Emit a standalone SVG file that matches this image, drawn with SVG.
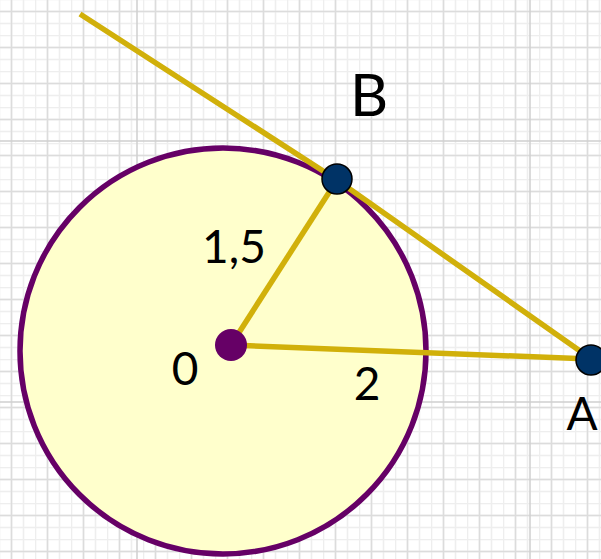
<svg xmlns="http://www.w3.org/2000/svg" width="601" height="559" viewBox="0 0 601 559">
<defs>
<pattern id="grid" x="-1" y="-1" width="36" height="36" patternUnits="userSpaceOnUse">
<rect width="36" height="36" fill="#ffffff"/>
<path d="M0 0.5H36M0 12.5H36M0 24.5H36M0.5 0V36M12.5 0V36M24.5 0V36" stroke="#eeeeee" stroke-width="1.5" fill="none"/>
<path d="M0 12.5H36M12.5 0V36" stroke="#dcdcdc" stroke-width="1.5" fill="none"/>
</pattern>
<style>
.lbl{font-family:"Lato","Open Sans",sans-serif;fill:#000;text-anchor:middle}
.seg{stroke:#d1b00a;stroke-width:5.5;fill:none;stroke-linecap:butt}
.pt{fill:#003366;stroke:#000;stroke-width:1.5}
</style>
</defs>
<rect width="601" height="559" fill="url(#grid)"/>
<path d="M137 0V559M530 0V559M0 141H601M0 402H601" stroke="#cfcfcf" stroke-width="1.5"/>
<g id="circle">
<circle cx="223" cy="351" r="203" fill="#ffffcc" stroke="#660066" stroke-width="5.5"/>
</g>
<g id="connectors">
<path class="seg" d="M80 14L337 180L590 358"/>
<path class="seg" d="M231 345L337 180"/>
<path class="seg" d="M231 345L590 359"/>
</g>
<g id="O">
<circle cx="231" cy="345" r="16" fill="#660066"/>
<text class="lbl" x="185" y="385" font-size="46">0</text>
</g>
<g id="B">
<circle class="pt" cx="337" cy="179" r="15"/>
<text class="lbl" x="369" y="116" font-size="59">B</text>
</g>
<g id="A">
<circle class="pt" cx="591" cy="360" r="15"/>
<text class="lbl" x="582" y="430" font-size="46">A</text>
</g>
<g id="labels">
<text class="lbl" x="234" y="263" font-size="46">1,5</text>
<text class="lbl" x="367" y="400" font-size="46">2</text>
</g>
</svg>
